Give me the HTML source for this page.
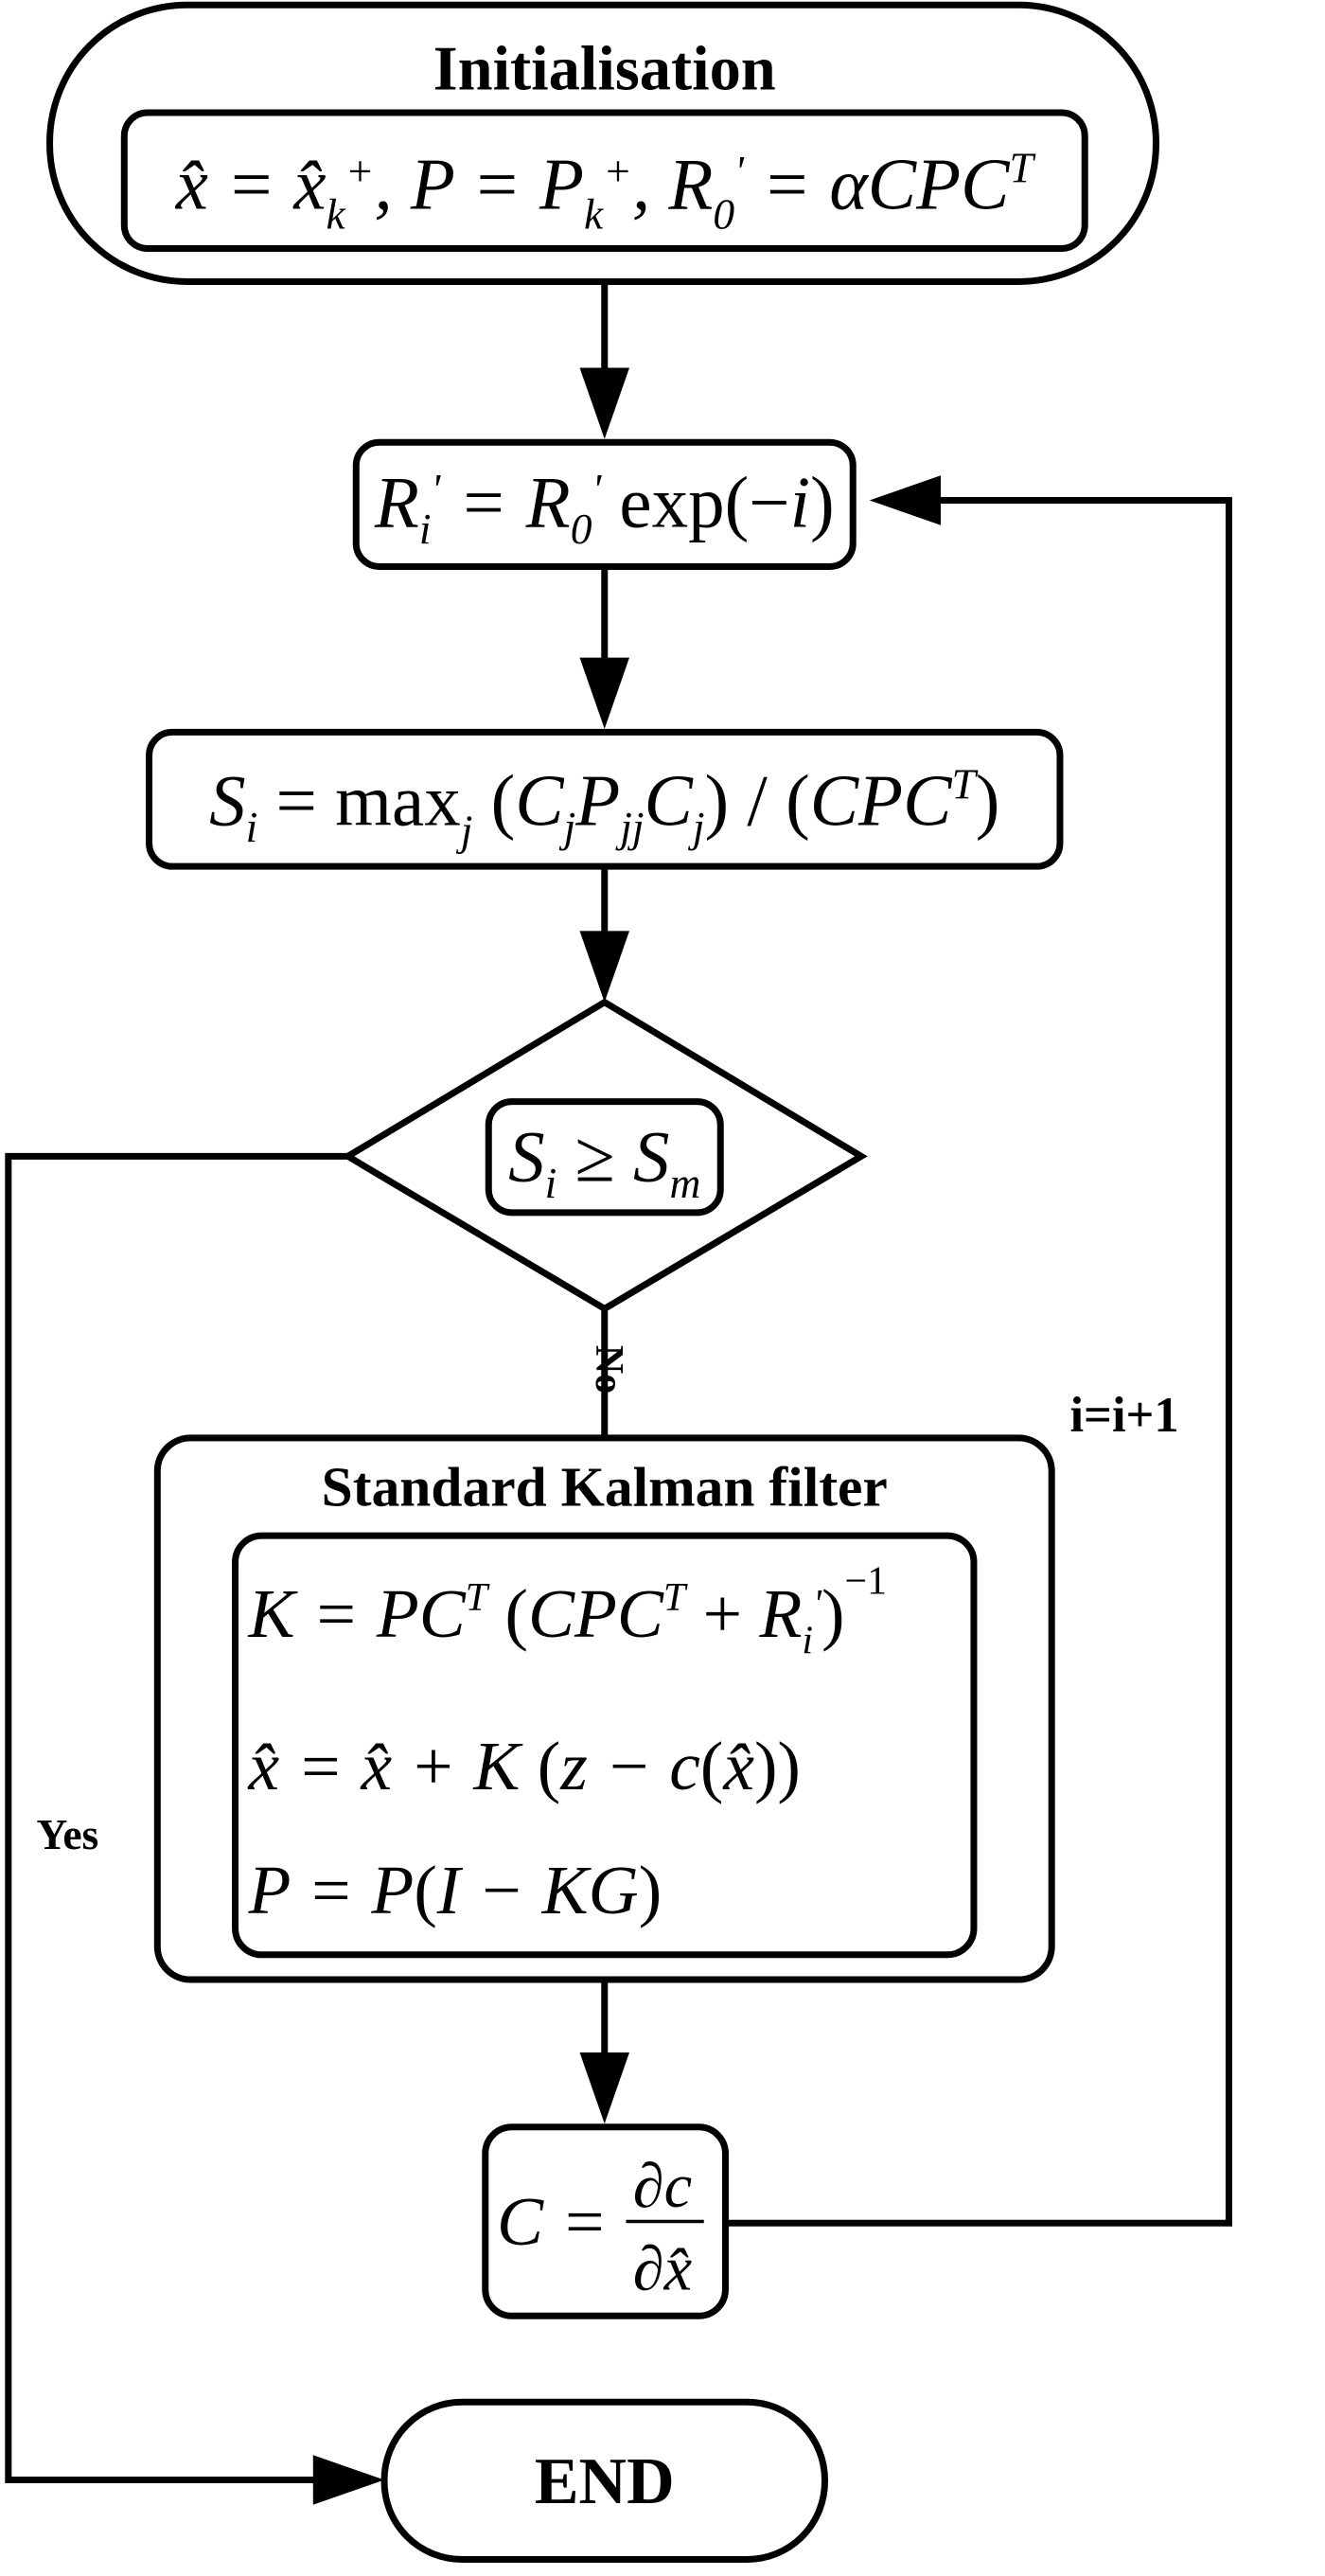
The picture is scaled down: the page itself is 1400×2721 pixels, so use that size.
<!DOCTYPE html>
<html><head><meta charset="utf-8"><style>
html,body{margin:0;padding:0;background:#fff;}
svg{display:block;}
.m{font-family:"Liberation Serif",serif;font-style:italic;fill:#000;}
.r{font-family:"Liberation Serif",serif;fill:#000;}
.b{font-family:"Liberation Serif",serif;font-weight:bold;fill:#000;}
</style></head><body>
<svg width="1400" height="2721" viewBox="0 0 800 1555" xmlns="http://www.w3.org/2000/svg">
<g fill="none" stroke="#000" stroke-width="4">
<rect x="30" y="3" width="668" height="167" rx="83"/>
<rect x="75" y="68" width="580" height="82" rx="14"/>
<rect x="215" y="267" width="300" height="75" rx="14"/>
<rect x="90" y="442" width="550" height="81" rx="14"/>
<polygon points="365,605 520,698 365,790 210,698"/>
<rect x="295" y="665" width="140" height="67" rx="14"/>
<rect x="95" y="868" width="540" height="327" rx="20"/>
<rect x="142" y="927" width="446" height="253" rx="16"/>
<rect x="293" y="1284" width="145" height="114" rx="16"/>
<rect x="232" y="1450" width="266" height="95" rx="47"/>
<line x1="365" y1="170" x2="365" y2="225"/>
<line x1="365" y1="342" x2="365" y2="400"/>
<line x1="365" y1="523" x2="365" y2="565"/>
<line x1="365" y1="790" x2="365" y2="868"/>
<line x1="365" y1="1195" x2="365" y2="1242"/>
<polyline points="438,1342 742,1342 742,302 565,302"/>
<polyline points="210,698 5,698 5,1497 192,1497"/>
</g>
<g fill="#000">
<polygon points="350,222 380,222 365,265"/>
<polygon points="350,397 380,397 365,440"/>
<polygon points="350,562 380,562 365,605"/>
<polygon points="350,1239 380,1239 365,1282"/>
<polygon points="568,287 568,317 525,302"/>
<polygon points="189,1482 189,1512 232,1497"/>
</g>
<text class="b" x="365" y="54" font-size="38" text-anchor="middle">Initialisation</text>
<text class="m" x="365" y="126" font-size="44" text-anchor="middle">x̂ = x̂<tspan font-size="26" dy="12">k</tspan><tspan font-size="26" dy="-26">+</tspan><tspan dy="14">, P = P</tspan><tspan font-size="26" dy="12">k</tspan><tspan font-size="26" dy="-26">+</tspan><tspan dy="14">, R</tspan><tspan font-size="26" dy="12" class="r">0</tspan><tspan font-size="26" dy="-26">'</tspan><tspan dy="14"> = αCPC</tspan><tspan font-size="26" dy="-16">T</tspan></text>
<text class="m" x="365" y="318" font-size="44" text-anchor="middle">R<tspan font-size="26" dy="10">i</tspan><tspan font-size="26" dy="-24">'</tspan><tspan dy="14"> = R</tspan><tspan font-size="26" dy="10" class="r">0</tspan><tspan font-size="26" dy="-24">'</tspan><tspan dy="14" font-style="normal"> exp(−</tspan><tspan>i</tspan><tspan font-style="normal">)</tspan></text>
<text class="m" x="365" y="498" font-size="44" text-anchor="middle">S<tspan font-size="26" dy="10">i</tspan><tspan dy="-10" font-style="normal"> = max</tspan><tspan font-size="26" dy="12">j</tspan><tspan dy="-12" font-style="normal"> (</tspan>C<tspan font-size="26" dy="10">j</tspan><tspan dy="-10">P</tspan><tspan font-size="26" dy="10">jj</tspan><tspan dy="-10">C</tspan><tspan font-size="26" dy="10">j</tspan><tspan dy="-10" font-style="normal">) / (</tspan>CPC<tspan font-size="26" dy="-16">T</tspan><tspan dy="16" font-style="normal">)</tspan></text>
<text class="m" x="365" y="713" font-size="44" text-anchor="middle">S<tspan font-size="26" dy="10">i</tspan><tspan dy="-10" font-style="normal"> ≥ </tspan>S<tspan font-size="26" dy="10">m</tspan></text>
<text class="b" x="0" y="0" font-size="24" transform="translate(360,812) rotate(90)">No</text>
<text class="b" x="365" y="909" font-size="34" text-anchor="middle">Standard Kalman filter</text>
<text class="m" x="150" y="988" font-size="42">K = PC<tspan font-size="24" dy="-16">T</tspan><tspan dy="16" font-style="normal"> (</tspan>CPC<tspan font-size="24" dy="-16">T</tspan><tspan dy="16" font-style="normal"> + </tspan>R<tspan font-size="24" dy="10">i</tspan><tspan font-size="24" dy="-22">'</tspan><tspan dy="12" font-style="normal">)</tspan><tspan font-size="24" dy="-26" font-style="normal">−1</tspan></text>
<text class="m" x="150" y="1080" font-size="42">x̂ = x̂ + K<tspan font-style="normal"> (</tspan>z − c<tspan font-style="normal">(</tspan>x̂<tspan font-style="normal">))</tspan></text>
<text class="m" x="150" y="1155" font-size="42">P = P<tspan font-style="normal">(</tspan>I − KG<tspan font-style="normal">)</tspan></text>
<text class="m" x="300" y="1355" font-size="42">C =</text>
<text class="m" x="400" y="1332" font-size="38" text-anchor="middle">∂c</text>
<line x1="378" y1="1341" x2="425" y2="1341" stroke="#000" stroke-width="2"/>
<text class="m" x="400" y="1382" font-size="38" text-anchor="middle">∂x̂</text>
<text class="b" x="646" y="864" font-size="30">i=i+1</text>
<text class="b" x="22" y="1116" font-size="26">Yes</text>
<text class="b" x="365" y="1511" font-size="40" text-anchor="middle">END</text>
</svg>
</body></html>
